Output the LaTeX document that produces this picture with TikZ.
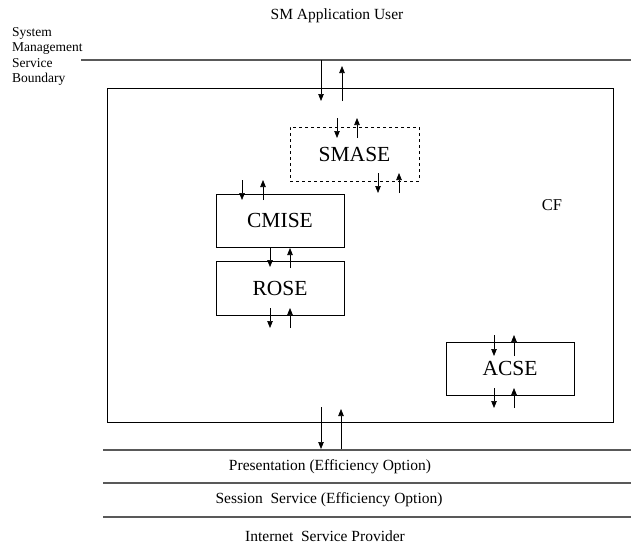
\documentclass[tikz,border=0pt]{standalone}
\usepackage{fontspec}
\setmainfont{Liberation Serif}
\usetikzlibrary{arrows.meta}

\begin{document}
\begin{tikzpicture}
    [
    x=1pt,y=-1pt,
    layer/.style={draw=black!65,line width=1.1pt},
    module/.style={draw,line width=0.8pt,minimum width=128pt,minimum height=53pt,inner sep=0pt,font=\fontsize{21.5}{24}\selectfont},
    flow/.style={line width=0.7pt,-{Triangle[length=7pt,width=5.5pt]}},
    caption/.style={font=\fontsize{15.5}{18}\selectfont}
    ]
    \useasboundingbox (0,0) rectangle (631,546);

    % service boundary and lower layers
    \node (user) at (337,16) [caption] {SM Application User};
    \node (boundary) at (12,27) [anchor=north west,align=left,inner sep=0pt,font=\fontsize{13.5}{15.5}\selectfont] {System\\Management\\Service\\Boundary};
    \coordinate (top-l) at (81,60);
    \coordinate (top-r) at (631,60);
    \draw [layer] (top-l) -- (top-r);
    \foreach \n/\y in {pres/450,sess/483,isp/517} {
      \coordinate (\n-l) at (103,\y);
      \coordinate (\n-r) at (631,\y);
      \draw [layer] (\n-l) -- (\n-r);
    }
    \node (presentation) at (330,467) [caption] {Presentation (Efficiency Option)};
    \node (session) at (329,500) [caption] {Session\ \ Service (Efficiency Option)};
    \node (internet) at (325,536) [caption] {Internet\ \ Service Provider};

    % CF and its modules
    \node (cf) at (360,255) [draw,line width=0.8pt,minimum width=506pt,minimum height=334pt] {};
    \node (cflabel) at (552,205) [font=\fontsize{16.5}{19}\selectfont] {CF};
    \node (smase) at (354.5,154) [module,dashed,minimum width=129pt,minimum height=54pt] {SMASE};
    \node (cmise) at (280,220.5) [module] {CMISE};
    \node (rose) at (280,288) [module,minimum height=54pt] {ROSE};
    \node (acse) at (510,368.5) [module] {ACSE};

    % primitives down and up
    \foreach \n/\x/\ya/\yb in {cfin/321/60/101, smasein/337/118/138, smaseout/378/173/193,
        cmisein/242/180/200, roseinp/270/247/267, roseout/270/308/328,
        acsein/494/335/356, acseout/494/388/408, cfout/321/407/449} {
      \coordinate (\n-a) at (\x,\ya);
      \coordinate (\n-b) at (\x,\yb);
      \draw [flow] (\n-a) -- (\n-b);
    }
    \foreach \n/\x/\ya/\yb in {cfup/342/101/66, smaseup/357/138/118, smasedn/399/193/173,
        cmiseup/263/200/180, roseup/290/268/248, rosedn/290/328/308,
        acseup/514/356/335, acsedn/514/408/388, cfdn/341/449/409} {
      \coordinate (\n-a) at (\x,\ya);
      \coordinate (\n-b) at (\x,\yb);
      \draw [flow] (\n-a) -- (\n-b);
    }
  \end{tikzpicture}
\end{document}
